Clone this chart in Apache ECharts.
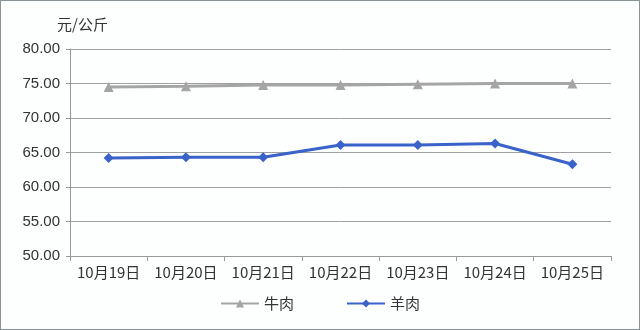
<!DOCTYPE html>
<html><head><meta charset="utf-8">
<script src="https://cdn.jsdelivr.net/npm/echarts@6/dist/echarts.min.js"></script>
<style>html,body{margin:0;padding:0;background:#fff}#c{width:640px;height:330px;box-sizing:border-box;border:1px solid #8a9396;background:#fdfefe}</style>
</head><body><div id="c"></div>
<script>
const categories = ['10月19日','10月20日','10月21日','10月22日','10月23日','10月24日','10月25日'];
const beef = [74.5, 74.6, 74.8, 74.8, 74.9, 75.0, 75.0];
const mutton = [64.2, 64.3, 64.3, 66.1, 66.1, 66.3, 63.3];
const seriesNames = ['牛肉', '羊肉'];
const unitLabel = '元/公斤';

const chart = echarts.init(document.getElementById('c'));
const font = '"Noto Sans CJK SC", "Liberation Sans", sans-serif';
chart.setOption({
  animation: false,
  textStyle: {fontFamily: font},
  grid: {left: 69, right: 28, top: 48, bottom: 73},
  title: {text: unitLabel, left: 51, top: 11, textStyle: {fontSize: 15, fontWeight: 'normal', color: '#333', fontFamily: font}},
  legend: {
    bottom: 13, left: 'center', itemGap: 52, itemWidth: 38, itemHeight: 10,
    textStyle: {fontSize: 15, color: '#333', fontFamily: font},
    data: seriesNames
  },
  xAxis: {
    type: 'category', data: categories, boundaryGap: true,
    axisLine: {lineStyle: {color: '#999', width: 1}},
    axisTick: {show: true, interval: 0, length: 5, lineStyle: {color: '#999'}},
    axisLabel: {interval: 0, hideOverlap: false, fontSize: 15, color: '#333', margin: 9, fontFamily: font}
  },
  yAxis: {
    type: 'value', min: 50, max: 80, interval: 5,
    axisLine: {show: true, lineStyle: {color: '#999'}},
    axisTick: {show: true, length: 4, lineStyle: {color: '#999'}},
    splitLine: {lineStyle: {color: '#a0a0a0', width: 1}},
    axisLabel: {fontSize: 15, color: '#333', margin: 10, fontFamily: '"Liberation Sans", sans-serif', formatter: v => v.toFixed(2)}
  },
  series: [
    {name: seriesNames[0], type: 'line', data: beef, symbol: 'triangle', symbolSize: 10,
     itemStyle: {color: '#a5a5a5'}, lineStyle: {color: '#a5a5a5', width: 3}},
    {name: seriesNames[1], type: 'line', data: mutton, symbol: 'diamond', symbolSize: 10,
     itemStyle: {color: '#3a63c9'}, lineStyle: {color: '#3a63c9', width: 3}}
  ]
});
</script></body></html>
